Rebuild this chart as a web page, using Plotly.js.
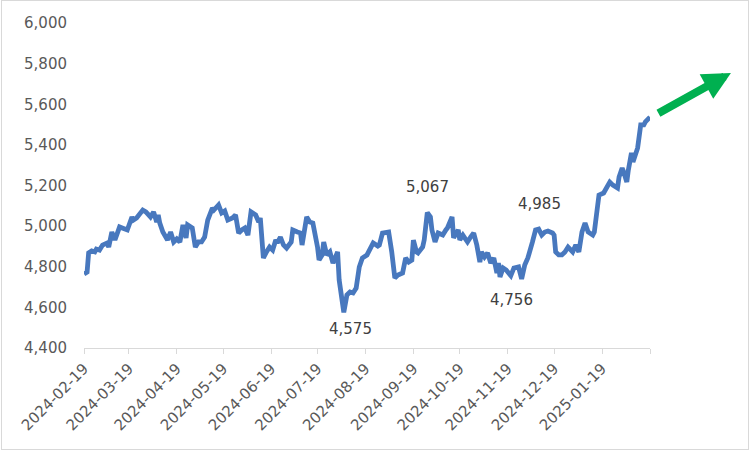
<!DOCTYPE html>
<html>
<head>
<meta charset="utf-8">
<script src="https://cdn.plot.ly/plotly-3.0.1.min.js"></script>
<style>
  html, body { margin: 0; padding: 0; background: #fff; }
  #wrap { position: relative; width: 751px; height: 452px; }
  #chart { position: absolute; left: 0; top: 0; width: 751px; height: 452px; }
  #frame { position: absolute; left: 1px; top: 0px; width: 748px; height: 450px; border: 1px solid #d9d9d9; pointer-events: none; box-sizing: border-box; }
</style>
</head>
<body>
<div id="wrap"><div id="chart"></div><div id="frame"></div></div>
<script>
const dates = [
  "2024-02-19","2024-02-21","2024-02-22","2024-02-24","2024-02-26","2024-02-27","2024-02-29",
  "2024-03-02","2024-03-05","2024-03-06","2024-03-08","2024-03-10","2024-03-13","2024-03-17","2024-03-18",
  "2024-03-21","2024-03-22","2024-03-24","2024-03-28","2024-03-30",
  "2024-04-02","2024-04-04","2024-04-06","2024-04-07","2024-04-08","2024-04-10","2024-04-13","2024-04-15",
  "2024-04-17","2024-04-19","2024-04-21","2024-04-23","2024-04-25","2024-04-26","2024-04-29",
  "2024-05-01","2024-05-03","2024-05-05","2024-05-07","2024-05-09","2024-05-12","2024-05-13","2024-05-16",
  "2024-05-18","2024-05-20","2024-05-22","2024-05-25","2024-05-27","2024-05-29","2024-05-31",
  "2024-06-02","2024-06-04","2024-06-06","2024-06-09","2024-06-11","2024-06-12","2024-06-14","2024-06-16",
  "2024-06-18","2024-06-20","2024-06-22","2024-06-23","2024-06-25","2024-06-27","2024-06-29",
  "2024-07-02","2024-07-03","2024-07-06","2024-07-08","2024-07-09","2024-07-12","2024-07-14","2024-07-16",
  "2024-07-19","2024-07-20","2024-07-22","2024-07-23","2024-07-25","2024-07-27","2024-07-29",
  "2024-08-01","2024-08-02","2024-08-04","2024-08-05","2024-08-07","2024-08-09","2024-08-11","2024-08-13",
  "2024-08-15","2024-08-17","2024-08-20","2024-08-22","2024-08-24","2024-08-27","2024-08-28","2024-08-30",
  "2024-09-01","2024-09-03","2024-09-05","2024-09-07","2024-09-09","2024-09-12","2024-09-14","2024-09-16",
  "2024-09-18","2024-09-19","2024-09-21","2024-09-22","2024-09-25","2024-09-26","2024-09-28","2024-09-30",
  "2024-10-01","2024-10-03","2024-10-05","2024-10-08","2024-10-10","2024-10-11","2024-10-14","2024-10-15",
  "2024-10-18","2024-10-19","2024-10-21","2024-10-24","2024-10-26","2024-10-28","2024-10-30",
  "2024-11-01","2024-11-02","2024-11-04","2024-11-06","2024-11-08","2024-11-10","2024-11-12","2024-11-13",
  "2024-11-14","2024-11-16","2024-11-18","2024-11-21","2024-11-23","2024-11-26","2024-11-28","2024-11-30",
  "2024-12-02","2024-12-05","2024-12-07","2024-12-09","2024-12-11","2024-12-13","2024-12-15","2024-12-18",
  "2024-12-19","2024-12-20","2024-12-22","2024-12-24","2024-12-26","2024-12-28","2024-12-31",
  "2025-01-02","2025-01-04","2025-01-06","2025-01-08","2025-01-10","2025-01-13","2025-01-14","2025-01-16",
  "2025-01-17","2025-01-20","2025-01-22","2025-01-24","2025-01-26","2025-01-29","2025-01-30",
  "2025-02-01","2025-02-02","2025-02-04","2025-02-05","2025-02-07","2025-02-08","2025-02-09","2025-02-11",
  "2025-02-13","2025-02-15","2025-02-16","2025-02-18","2025-02-19"
];
const values = [
  4764,4774,4868,4878,4873,4887,4882,
  4907,4917,4897,4971,4932,4996,4986,4981,
  5045,5030,5040,5079,5070,
  5045,5070,5020,5055,5015,4971,4932,4971,
  4922,4937,4922,5006,4942,5006,4991,
  4897,4922,4922,4946,5030,5089,5079,5104,
  5065,5075,5030,5040,5055,4966,4981,
  4991,4956,5070,5055,5020,5040,4843,4873,
  4897,4882,4932,4917,4946,4907,4892,
  4922,4981,4971,4966,4907,5045,5020,5015,
  4897,4833,4858,4922,4858,4873,4818,
  4873,4735,4626,4575,4661,4676,4671,4695,
  4799,4843,4858,4892,4917,4902,4907,4966,
  4966,4971,4873,4745,4759,4769,4843,4823,
  4833,4931,4873,4868,4897,4932,5067,5045,
  4981,4922,4966,4956,4981,4991,5045,4942,
  4981,4932,4956,4922,4946,4966,4907,
  4823,4873,4848,4868,4818,4843,4769,4818,
  4750,4794,4784,4756,4794,4799,4740,4809,
  4843,4922,4981,4985,4956,4971,4976,4966,
  4956,4873,4858,4858,4873,4897,4873,
  4907,4873,4971,5015,4971,4956,4971,5104,
  5153,5163,5188,5217,5202,5188,5242,
  5286,5266,5217,5276,5360,5316,5340,5385,
  5498,5498,5513,5532,5537
];

const tickDates = ["2024-02-19","2024-03-19","2024-04-19","2024-05-19","2024-06-19","2024-07-19",
  "2024-08-19","2024-09-19","2024-10-19","2024-11-19","2024-12-19","2025-01-19","2025-02-19"];
const tickLabels = ["2024-02-19","2024-03-19","2024-04-19","2024-05-19","2024-06-19","2024-07-19",
  "2024-08-19","2024-09-19","2024-10-19","2024-11-19","2024-12-19","2025-01-19",""];

const labelDates = ["2024-08-05","2024-09-28","2024-11-21","2024-12-09"];
const labelValues = [4575, 5067, 4756, 4985];
const labelTexts = ["4,575","5,067","4,756","4,985"];
const labelShiftX = [7, 0, 1, 1];
const labelShiftY = [-17, 26, -24, 25];

const FONT = "DejaVu Sans, sans-serif";

const annotations = labelDates.map((d, i) => ({
  x: d, y: labelValues[i], xref: "x", yref: "y",
  text: labelTexts[i], showarrow: false,
  xshift: labelShiftX[i], yshift: labelShiftY[i],
  font: { family: FONT, size: 15, color: "#404040" }
}));

// green trend arrow (decoration)
annotations.push({
  x: 1.143, y: 0.846, xref: "paper", yref: "paper",
  ax: -74, ay: 41, axref: "pixel", ayref: "pixel",
  text: "", showarrow: true,
  arrowhead: 2, arrowsize: 0.7, arrowwidth: 8, arrowcolor: "#00B050"
});

const trace = {
  x: dates, y: values, type: "scatter", mode: "lines",
  line: { color: "#4878BE", width: 4.8 },
  hoverinfo: "skip"
};

const layout = {
  width: 751, height: 452,
  margin: { l: 84, r: 101, t: 23, b: 104, pad: 0 },
  paper_bgcolor: "#ffffff", plot_bgcolor: "#ffffff",
  showlegend: false,
  font: { family: FONT, size: 15, color: "#595959" },
  xaxis: {
    type: "date",
    range: ["2024-02-19", "2025-02-19"],
    tickmode: "array", tickvals: tickDates, ticktext: tickLabels,
    tickangle: -45,
    showgrid: false, zeroline: false,
    showline: true, linecolor: "#d9d9d9", linewidth: 1,
    ticks: "outside", ticklen: 5, tickcolor: "#d9d9d9", tickwidth: 1,
    tickfont: { family: FONT, size: 15, color: "#595959" }
  },
  yaxis: {
    range: [4400, 6000],
    tickmode: "linear", tick0: 4400, dtick: 200,
    tickformat: ",",
    showgrid: false, zeroline: false, showline: false,
    ticks: "", ticklabelstandoff: 16,
    tickfont: { family: FONT, size: 15, color: "#595959" }
  },
  annotations: annotations
};

Plotly.newPlot("chart", [trace], layout, { staticPlot: true, displayModeBar: false });
</script>
</body>
</html>
